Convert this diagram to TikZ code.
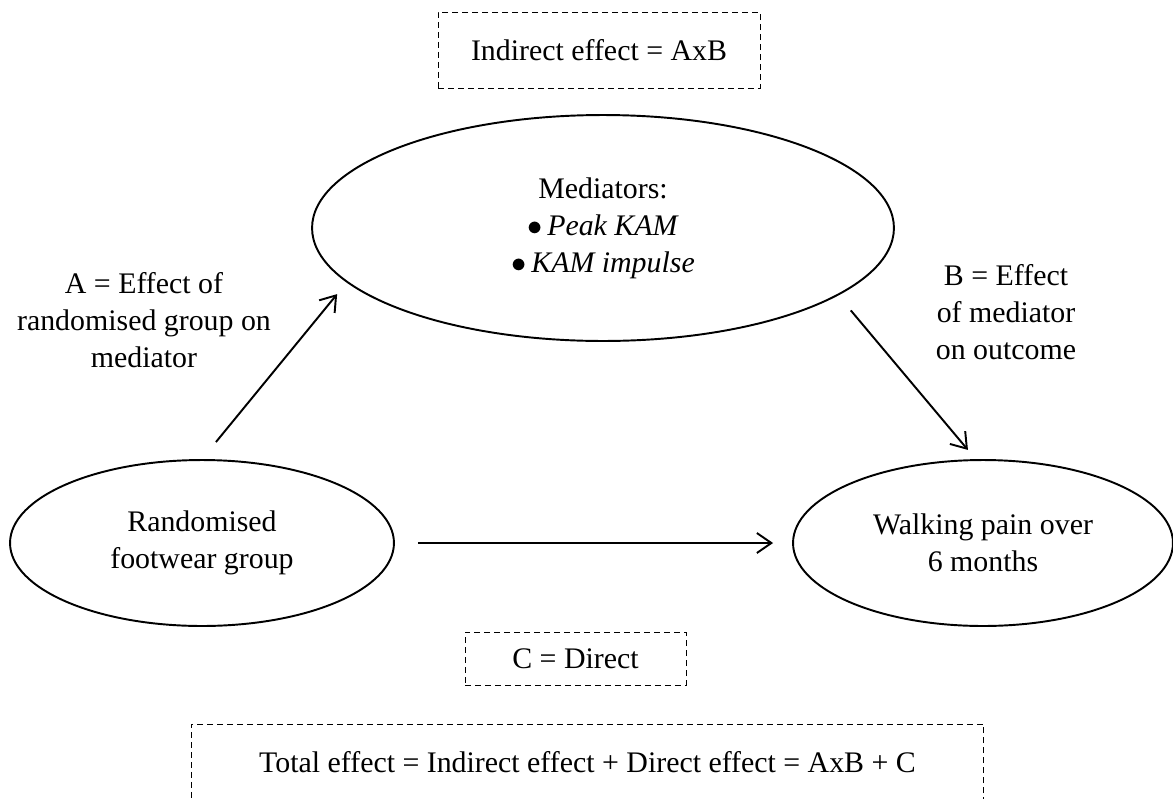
\documentclass[tikz,border=0pt]{standalone}
\usepackage{fontspec}
\setmainfont{Liberation Serif}
\usetikzlibrary{shapes.geometric,arrows.meta}

\begin{document}
\begin{tikzpicture}[x=0.02cm,y=-0.02cm,font=\fontsize{17}{21}\selectfont,
  oval/.style={draw,ellipse,line width=1.1pt,inner sep=0pt,align=center},
  dbox/.style={draw,dash pattern=on 1.2mm off 0.8mm,line width=0.5pt,inner sep=0pt,align=center},
  arr/.style={-{Straight Barb[length=2.9mm,width=4mm]},line width=1.1pt}]
\useasboundingbox (0,0) rectangle (1173,798);

\node [dbox,minimum width=6.44cm,minimum height=1.52cm] (ind) at (599,50) {Indirect effect = AxB};
\node [oval,minimum width=11.64cm,minimum height=4.52cm] (med) at (603,228) {Mediators:\\ $\bullet$\,\textit{Peak KAM}\\ $\bullet$\,\textit{KAM impulse}};
\node [oval,minimum width=7.68cm,minimum height=3.32cm] (rand) at (202,543) {Randomised\\ footwear group};
\node [oval,minimum width=7.6cm,minimum height=3.32cm] (walk) at (983,543) {Walking pain over\\ 6 months};

\node [align=center] (labA) at (144,320) {A = Effect of\\ randomised group on\\ mediator};
\node [align=center] (labB) at (1006,312) {B = Effect\\ of mediator\\ on outcome};

\node [dbox,minimum width=4.42cm,minimum height=1.06cm] (dir) at (575.5,658.5) {C = Direct};
\node [dbox,minimum width=15.86cm,minimum height=1.52cm] (tot) at (587.5,762) {Total effect = Indirect effect + Direct effect = AxB + C};

\draw[arr,shorten <=0.44cm,shorten >=0.3cm] (rand.north) -- (med.192);
\draw[arr,shorten <=0.39cm,shorten >=0.24cm] (med.344) -- (walk.95);
\draw[arr,shorten <=0.46cm,shorten >=0.38cm] (rand.east) -- (walk.west);

\end{tikzpicture}
\end{document}
